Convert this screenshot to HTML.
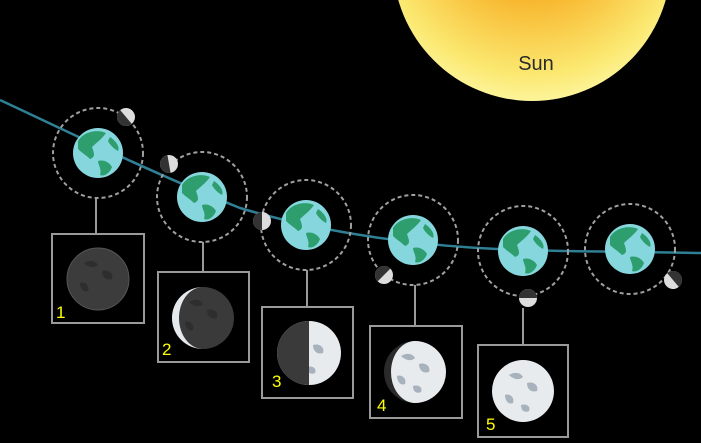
<!DOCTYPE html>
<html><head><style>html,body{margin:0;padding:0;background:#000;}svg{display:block}</style></head>
<body>
<svg width="701" height="443" viewBox="0 0 701 443" xmlns="http://www.w3.org/2000/svg" font-family="Liberation Sans, sans-serif">
<defs>
<radialGradient id="sun" cx="0.5" cy="0.35" r="0.65">
<stop offset="0" stop-color="#f06a08"/><stop offset="0.45" stop-color="#f8b830"/><stop offset="0.85" stop-color="#fbe870"/><stop offset="1" stop-color="#fdf49a"/>
</radialGradient>
<g id="earth">
<circle r="25" fill="#86d6de"/>
<path d="M-20,-12 C-14,-22 0,-24 8,-20 C4,-14 -2,-10 -6,-6 C-4,0 -2,4 -8,6 C-12,2 -16,0 -20,-4 Z" fill="#2e9e6e"/>
<path d="M0,8 C6,6 12,10 14,14 C12,20 6,24 2,22 C4,16 0,12 0,8 Z" fill="#2e9e6e"/>
<path d="M12,-16 C18,-12 22,-6 20,-2 C16,-4 12,-8 10,-12 Z" fill="#2e9e6e"/>
</g>
<g id="pm"><circle r="9" fill="#ddd"/><path d="M0,-9 A9,9 0 0,0 0,9 Z" fill="#333"/></g>
<g id="patches" fill="#a8b2bc"><path d="M-14,-16 c6,-4 12,-2 14,2 c-4,4 -10,2 -14,-2z"/><path d="M4,-8 c6,-2 12,2 10,8 c-6,2 -10,-2 -10,-8z"/><path d="M-18,4 c4,-2 10,2 8,8 c-4,2 -8,-2 -8,-8z"/><path d="M-2,14 c6,-2 10,2 8,6 c-4,2 -8,0 -8,-6z"/></g>
<g id="dpatch" fill="#2e2e2e"><path d="M-14,-16 c6,-4 12,-2 14,2 c-4,4 -10,2 -14,-2z"/><path d="M4,-8 c6,-2 12,2 10,8 c-6,2 -10,-2 -10,-8z"/><path d="M-18,4 c4,-2 10,2 8,8 c-4,2 -8,-2 -8,-8z"/></g>
</defs>
<circle cx="532" cy="-38" r="139" fill="url(#sun)"/>
<text x="536" y="70" font-size="20" fill="#2a2a2a" text-anchor="middle">Sun</text>
<path d="M0,100 C60,128 150,172 240,208 C320,232 420,247 520,250 C600,252 660,252 701,253" fill="none" stroke="#2f7f95" stroke-width="2.5"/>
<g fill="none" stroke="#a0a0a0" stroke-width="2" stroke-dasharray="4,3">
<circle cx="98" cy="153" r="45"/><circle cx="202" cy="197" r="45"/><circle cx="306" cy="225" r="45"/><circle cx="413" cy="240" r="45"/><circle cx="523" cy="251" r="45"/><circle cx="630" cy="249" r="45"/>
</g>
<use href="#earth" x="98" y="153"/><use href="#earth" x="202" y="197"/><use href="#earth" x="306" y="225"/><use href="#earth" x="413" y="240"/><use href="#earth" x="523" y="251"/><use href="#earth" x="630" y="249"/>
<g transform="translate(126,117) rotate(-40)"><use href="#pm"/></g>
<g transform="translate(169,164) rotate(-10)"><use href="#pm"/></g>
<g transform="translate(262,221) rotate(0)"><use href="#pm"/></g>
<g transform="translate(384,275) rotate(45)"><use href="#pm"/></g>
<g transform="translate(528,298) rotate(90)"><use href="#pm"/></g>
<g transform="translate(673,280) rotate(140)"><use href="#pm"/></g>
<g stroke="#9a9a9a" stroke-width="2" fill="none">
<line x1="96" y1="198" x2="96" y2="233"/><line x1="203" y1="242" x2="203" y2="271"/><line x1="307" y1="270" x2="307" y2="307"/><line x1="415" y1="285" x2="415" y2="326"/><line x1="523" y1="308" x2="523" y2="345"/>
<rect x="52" y="234" width="92" height="89"/><rect x="158" y="272" width="91" height="90"/><rect x="262" y="307" width="91" height="91"/><rect x="370" y="326" width="92" height="92"/><rect x="478" y="345" width="90" height="92"/>
</g>
<g transform="translate(98,279)"><circle r="31" fill="#3c3c3c" stroke="#555" stroke-width="1"/><use href="#dpatch"/></g>
<g transform="translate(203,318)"><circle r="31" fill="#3a3a3a"/><use href="#dpatch"/><path d="M0,-31 A31,31 0 0,0 0,31 A24,31 0 0,1 0,-31Z" fill="#e6e9ec"/></g>
<g transform="translate(309,353)"><circle r="32" fill="#e8ebee"/><use href="#patches"/><path d="M0,-32 A32,32 0 0,0 0,32 Z" fill="#3a3a3a"/></g>
<g transform="translate(415,372)"><circle r="31" fill="#2a2a2a"/><path d="M0,-31 A31,31 0 0,1 0,31 A24,31 0 0,1 0,-31Z" fill="#e8ebee"/><use href="#patches"/></g>
<g transform="translate(523,391)"><circle r="31" fill="#e8ebee"/><use href="#patches"/></g>
<g fill="#ffff00" font-size="17"><text x="56" y="318">1</text><text x="162" y="355">2</text><text x="272" y="387">3</text><text x="377" y="411">4</text><text x="486" y="430">5</text></g>
</svg>
</body></html>
